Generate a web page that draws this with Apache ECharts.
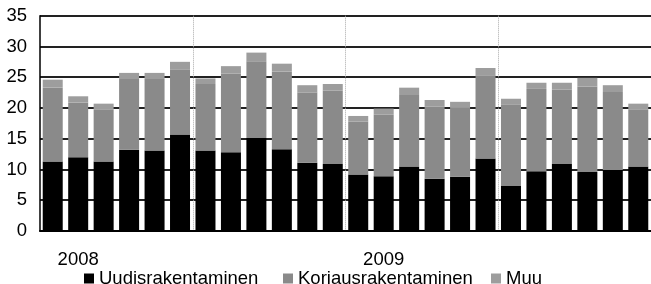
<!DOCTYPE html>
<html>
<head>
<meta charset="utf-8">
<script src="https://cdn.jsdelivr.net/npm/echarts@6/dist/echarts.min.js"></script>
<style>html,body{margin:0;padding:0;background:#fff;}#c{width:651px;height:284px;}</style>
</head>
<body>
<div id="c"></div>
<script>
var categories = ['2008-01','2008-02','2008-03','2008-04','2008-05','2008-06','2008-07','2008-08','2008-09','2008-10','2008-11','2008-12',
                  '2009-01','2009-02','2009-03','2009-04','2009-05','2009-06','2009-07','2009-08','2009-09','2009-10','2009-11','2009-12'];
var tickLabels = {1: '2008', 13: '2009'};
var uudis   = [11.3, 12.0, 11.3, 13.2, 13.1, 15.7, 13.1, 12.8, 15.1, 13.3, 11.1, 10.9, 9.2, 8.9, 10.5, 8.5, 8.8, 11.8, 7.3, 9.7, 10.9, 9.6, 9.9, 10.5];
var korjaus = [12.0, 8.9, 8.5, 11.5, 11.6, 10.5, 10.8, 12.8, 12.5, 12.6, 11.4, 11.9, 8.6, 10.0, 11.6, 11.7, 11.2, 13.5, 13.2, 13.4, 12.1, 13.9, 12.7, 9.3];
var muu     = [1.3, 1.0, 0.9, 1.0, 1.0, 1.3, 0.9, 1.2, 1.4, 1.3, 1.2, 1.1, 0.9, 1.0, 1.2, 1.1, 1.0, 1.2, 1.0, 1.0, 1.1, 1.4, 1.1, 0.9];
var yTicks = [0, 5, 10, 15, 20, 25, 30, 35];

var font = 'Liberation Sans, Arial, sans-serif';
var chart = echarts.init(document.getElementById('c'), null, {renderer: 'canvas'});
function legend(name, left) {
  return {
    data: [name], left: left, top: 264, itemWidth: 10, itemHeight: 10, icon: 'rect',
    textStyle: {fontFamily: font, fontSize: 18.5, color: '#000'}
  };
}
chart.setOption({
  animation: false,
  legend: [legend('Uudisrakentaminen', 79), legend('Korjausrakentaminen', 278), legend('Muu', 486)],
  grid: {left: 40, top: 15.7, width: 612, height: 215.3},
  xAxis: {
    type: 'category', data: categories,
    axisLine: {lineStyle: {color: '#000', width: 2}},
    axisTick: {show: false},
    axisLabel: {interval: 0, margin: 19, fontFamily: font, fontSize: 18.5, color: '#000',
      formatter: function (v, i) { return tickLabels[i] || ''; }},
    splitLine: {show: true, interval: function (i) { return i > 0 && i % 6 === 0; },
      lineStyle: {color: '#aaa', type: 'dotted', width: 1}}
  },
  yAxis: {
    type: 'value', min: yTicks[0], max: yTicks[yTicks.length - 1], interval: 5,
    axisLine: {show: true, lineStyle: {color: '#000', width: 1.5}},
    axisTick: {show: false},
    axisLabel: {margin: 13, fontFamily: font, fontSize: 18.5, color: '#000'},
    splitLine: {lineStyle: {color: '#222', width: 2}}
  },
  series: [
    {name: 'Uudisrakentaminen', type: 'bar', stack: 's', data: uudis, barWidth: 20, itemStyle: {color: '#000'}},
    {name: 'Korjausrakentaminen', type: 'bar', stack: 's', data: korjaus, barWidth: 20, itemStyle: {color: '#8a8a8a'}},
    {name: 'Muu', type: 'bar', stack: 's', data: muu, barWidth: 20, itemStyle: {color: '#9d9d9d'}}
  ]
});
</script>
</body>
</html>
